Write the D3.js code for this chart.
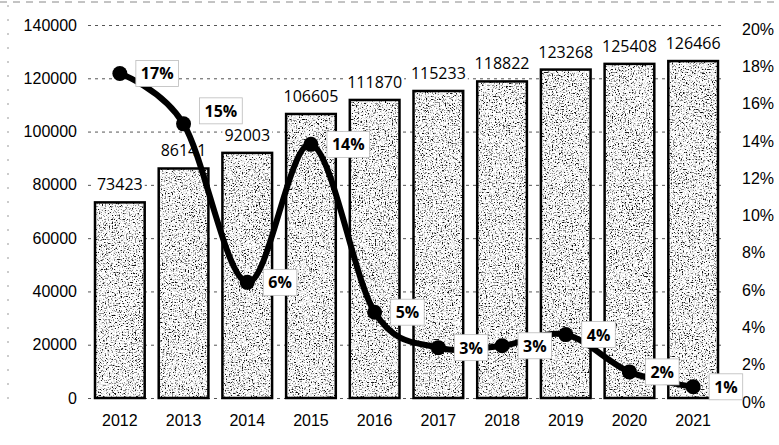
<!DOCTYPE html>
<html>
<head>
<meta charset="utf-8">
<script src="https://cdn.jsdelivr.net/npm/d3@7"></script>
<style>
  html, body { margin: 0; padding: 0; background: #fff; }
  svg { display: block; font-family: 'Open Sans', sans-serif; }
  .grid line { stroke: #555; stroke-dasharray: 3 4; stroke-width: 1; }
  .axis text { font-size: 16px; fill: #000; }
</style>
</head>
<body>
<svg id="chart" width="779" height="445"></svg>
<script>
// 데이터
const years = ['2012', '2013', '2014', '2015', '2016', '2017', '2018', '2019', '2020', '2021'];
const totals = [73423, 86141, 92003, 106605, 111870, 115233, 118822, 123268, 125408, 126466];
const rates = [17.4, 14.7, 6.2, 13.6, 4.6, 2.7, 2.8, 3.4, 1.4, 0.6];
const rateLabels = ['17%', '15%', '6%', '14%', '5%', '3%', '3%', '4%', '2%', '1%'];
const leftTicks = [0, 20000, 40000, 60000, 80000, 100000, 120000, 140000];
const rightTicks = [0, 2, 4, 6, 8, 10, 12, 14, 16, 18, 20];

const svg = d3.select('#chart');
const W = 779, H = 445;
const margin = { top: 25, right: 54, bottom: 47, left: 88 };
const width = W - margin.left - margin.right;
const height = H - margin.top - margin.bottom;

// 거친 스캔 느낌의 점묘 텍스처
const defs = svg.append('defs');
const grain = defs.append('filter')
  .attr('id', 'grain')
  .attr('x', 0).attr('y', 0).attr('width', 1).attr('height', 1)
  .attr('color-interpolation-filters', 'sRGB');
grain.append('feTurbulence')
  .attr('type', 'fractalNoise')
  .attr('baseFrequency', 0.7)
  .attr('numOctaves', 2)
  .attr('seed', 11)
  .attr('result', 'noise');
grain.append('feColorMatrix')
  .attr('in', 'noise')
  .attr('type', 'matrix')
  .attr('values', '0 0 0 0 0  0 0 0 0 0  0 0 0 0 0  1 0 0 0 0')
  .attr('result', 'dots');
grain.append('feComponentTransfer')
  .attr('in', 'dots')
  .attr('result', 'speck')
  .append('feFuncA')
  .attr('type', 'discrete')
  .attr('tableValues', '0 0 0 0 0 0.1 0.45 0.9 1 1');
grain.append('feFlood').attr('flood-color', '#fff').attr('result', 'paper');
const merge = grain.append('feMerge').attr('result', 'mix');
merge.append('feMergeNode').attr('in', 'paper');
merge.append('feMergeNode').attr('in', 'speck');
grain.append('feComposite')
  .attr('in', 'mix')
  .attr('in2', 'SourceAlpha')
  .attr('operator', 'in');

// 스캔 테두리 흔적
svg.append('line')
  .attr('x1', 0).attr('x2', W).attr('y1', 2).attr('y2', 2)
  .attr('stroke', '#888').attr('stroke-dasharray', '7 6').attr('stroke-width', 1);
svg.append('line')
  .attr('x1', 8).attr('x2', 8).attr('y1', 5).attr('y2', 400)
  .attr('stroke', '#999').attr('stroke-dasharray', '2 12').attr('stroke-width', 1);

const g = svg.append('g').attr('transform', `translate(${margin.left},${margin.top})`);

const x = d3.scaleBand().domain(years).range([0, width]).paddingInner(0.22).paddingOuter(0.11);
const y = d3.scaleLinear().domain([0, 140000]).range([height, 0]);
const yr = d3.scaleLinear().domain([0, 20]).range([height, 0]);

// 그리드
g.append('g')
  .attr('class', 'grid')
  .call(d3.axisLeft(y).tickValues(leftTicks).tickSize(-width).tickFormat(''))
  .call((s) => s.select('.domain').remove());

// 왼쪽 축
g.append('g')
  .attr('class', 'axis')
  .call(d3.axisLeft(y).tickValues(leftTicks).tickSize(0).tickPadding(11).tickFormat(d3.format('d')))
  .call((s) => s.select('.domain').remove());

// 오른쪽 축 (스캔이 살짝 기울어 4px 아래)
g.append('g')
  .attr('class', 'axis')
  .attr('transform', `translate(${width},4)`)
  .call(d3.axisRight(yr).tickValues(rightTicks).tickSize(0).tickPadding(17).tickFormat((d) => d + '%'))
  .call((s) => s.select('.domain').remove());

// x축
g.append('g')
  .attr('class', 'axis')
  .attr('transform', `translate(0,${height})`)
  .call(d3.axisBottom(x).tickSize(0).tickPadding(17))
  .call((s) => s.select('.domain').remove());

// 막대
const bars = g.selectAll('.bar').data(years).enter().append('g').attr('class', 'bar');
bars.append('rect')
  .attr('x', (d) => x(d))
  .attr('y', (d, i) => y(totals[i]))
  .attr('width', x.bandwidth())
  .attr('height', (d, i) => height - y(totals[i]))
  .attr('fill', '#fff')
  .attr('filter', 'url(#grain)');
bars.append('rect')
  .attr('x', (d) => x(d))
  .attr('y', (d, i) => y(totals[i]))
  .attr('width', x.bandwidth())
  .attr('height', (d, i) => height - y(totals[i]))
  .attr('fill', 'none')
  .attr('stroke', '#000')
  .attr('stroke-width', 2.5);

// 막대 값 라벨
const valLabels = g.selectAll('.val').data(years).enter().append('g').attr('class', 'val');
valLabels.append('text')
  .attr('x', (d) => x(d) + x.bandwidth() / 2)
  .attr('y', (d, i) => y(totals[i]) - 18)
  .attr('text-anchor', 'middle')
  .attr('dominant-baseline', 'central')
  .attr('font-size', 16)
  .attr('fill', '#000')
  .text((d, i) => totals[i]);
valLabels.each(function () {
  const t = d3.select(this).select('text');
  const b = t.node().getBBox();
  d3.select(this).insert('rect', 'text')
    .attr('x', b.x - 2).attr('y', b.y + 2)
    .attr('width', b.width + 4).attr('height', b.height - 4)
    .attr('fill', '#fff');
});

// 증가율 선
const cx = (i) => x(years[i]) + x.bandwidth() / 2;
const line = d3.line()
  .x((d, i) => cx(i))
  .y((d) => yr(d))
  .curve(d3.curveCatmullRom.alpha(0));

g.append('path')
  .datum(rates)
  .attr('d', line)
  .attr('fill', 'none')
  .attr('stroke', '#000')
  .attr('stroke-width', 6)
  .attr('stroke-linejoin', 'round');

g.selectAll('.dot').data(rates).enter().append('circle')
  .attr('cx', (d, i) => cx(i))
  .attr('cy', (d) => yr(d))
  .attr('r', 7.5)
  .attr('fill', '#000');

// 증가율 라벨 (2013만 위로)
const labelLift = { 1: -13 };
const rl = g.selectAll('.rate').data(rates).enter().append('g').attr('class', 'rate');
rl.append('text')
  .attr('x', (d, i) => cx(i) + 21)
  .attr('y', (d, i) => yr(d) + (labelLift[i] || 0))
  .attr('dominant-baseline', 'central')
  .attr('font-size', 16)
  .attr('font-weight', 'bold')
  .attr('fill', '#000')
  .text((d, i) => rateLabels[i]);
rl.each(function () {
  const t = d3.select(this).select('text');
  const b = t.node().getBBox();
  d3.select(this).insert('rect', 'text')
    .attr('x', b.x - 5).attr('y', b.y - 2)
    .attr('width', b.width + 10).attr('height', b.height + 4)
    .attr('fill', '#fff')
    .attr('stroke', '#bbb')
    .attr('stroke-width', 0.8);
});
</script>
</body>
</html>
